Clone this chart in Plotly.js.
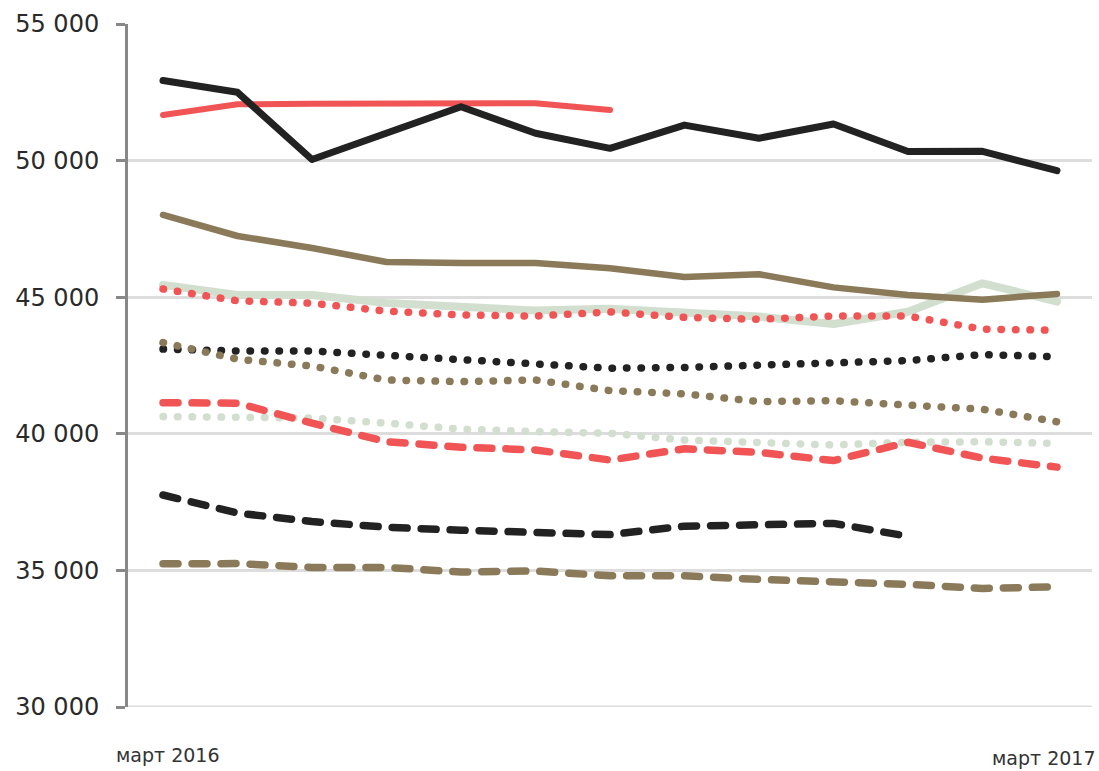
<!DOCTYPE html>
<html>
<head>
<meta charset="utf-8">
<script src="https://cdn.plot.ly/plotly-3.0.1.min.js"></script>
<style>
  html, body { margin: 0; padding: 0; background: #fff; }
  #chart { width: 1099px; height: 771px; }
  /* rounded ends for dashes and dots */
  .scatterlayer .js-line { stroke-linecap: round !important; stroke-linejoin: round !important; }
</style>
</head>
<body>
<div id="chart"></div>
<script>
// months from March 2016 to March 2017
const months = ['март 2016', 'апр 2016', 'май 2016', 'июнь 2016', 'июль 2016', 'авг 2016',
  'сен 2016', 'окт 2016', 'ноя 2016', 'дек 2016', 'янв 2017', 'фев 2017', 'март 2017'];
const edgeLabels = ['март 2016', 'март 2017'];
const yTicks = [30000, 35000, 40000, 45000, 50000, 55000];

// series values
const blackSolid = [52930, 52500, 50040, 51010, 51970, 51000, 50450, 51300, 50820, 51340, 50330, 50340, 49630];
const redSolid   = [51670, 52060, 52080, 52100, 52080, 52100, 51850];
const tanSolid   = [48010, 47240, 46800, 46290, 46250, 46250, 46060, 45740, 45840, 45360, 45080, 44910, 45120];
const greenSolid = [45450, 45080, 45080, 44790, 44650, 44510, 44580, 44410, 44290, 44020, 44470, 45510, 44840];
const redDot     = [45300, 44870, 44780, 44490, 44350, 44310, 44460, 44260, 44190, 44310, 44310, 43830, 43790];
const blackDot   = [43100, 43030, 43030, 42870, 42760, 42600, 42400, 42430, 42510, 42550, 42680, 42900, 42820];
const tanDot     = [43340, 42730, 42480, 41970, 41910, 41970, 41580, 41460, 41180, 41210, 41050, 40900, 40440];
const greenDot   = [40630, 40630, 40580, 40390, 40170, 40080, 40020, 39770, 39710, 39590, 39690, 39710, 39650];
const redDash    = [41140, 41120, 40390, 39710, 39510, 39410, 39040, 39450, 39320, 39020, 39690, 39110, 38780];
const blackDash  = [37760, 37100, 36790, 36580, 36470, 36420, 36310, 36620, 36660, 36720, 36250];
const tanDash    = [35240, 35250, 35110, 35110, 34940, 34980, 34800, 34800, 34670, 34590, 34490, 34340, 34400];

const BLACK = '#222222', RED = '#f05454', TAN = '#8b7a59', GREEN = '#d2dfcf';
const DOT = '0.5px,14px';
const DASH = '15px,14px';

function line(values, color, width, dash) {
  return {
    type: 'scatter', mode: 'lines',
    x: months.slice(0, values.length), y: values,
    line: { color: color, width: width, dash: dash || 'solid', shape: 'linear' },
    hoverinfo: 'skip', showlegend: false
  };
}

const data = [
  line(greenSolid, GREEN, 8),
  line(tanSolid, TAN, 6.5),
  line(redSolid, RED, 6),
  line(blackSolid, BLACK, 7),
  line(greenDot, GREEN, 7.5, DOT),
  line(blackDot, BLACK, 7.5, DOT),
  line(tanDot, TAN, 7.5, DOT),
  line(redDot, RED, 7.5, DOT),
  line(redDash, RED, 7.5, DASH),
  line(blackDash, BLACK, 7.5, DASH),
  line(tanDash, TAN, 7.5, DASH)
];

const tickFont = { family: 'DejaVu Sans', size: 24, color: '#2a2a2a' };
const labelFont = { family: 'DejaVu Sans', size: 19, color: '#333333' };

const layout = {
  width: 1099, height: 771,
  margin: { l: 128, r: 7, t: 24, b: 64 },
  paper_bgcolor: '#fff', plot_bgcolor: '#fff',
  separators: ', ',
  showlegend: false,
  xaxis: {
    type: 'category', categoryarray: months,
    range: [-0.47, months.length - 1 + 0.47],
    showgrid: false, zeroline: false, showline: false,
    showticklabels: false, ticks: ''
  },
  yaxis: {
    range: [30000, 55000],
    tickvals: yTicks,
    tickformat: ',d',
    showgrid: true, gridcolor: '#dddddd', gridwidth: 3,
    zeroline: false,
    showline: true, linecolor: '#888888', linewidth: 3,
    ticks: 'outside', ticklen: 9, tickwidth: 3, tickcolor: '#888888',
    ticklabelstandoff: 12,
    tickfont: tickFont
  },
  // bottom gridline at the lowest tick
  shapes: [
    { type: 'line', layer: 'below', xref: 'paper', x0: 0, x1: 1, yref: 'y', y0: yTicks[0], y1: yTicks[0],
      line: { color: '#dddddd', width: 3 } }
  ],
  annotations: [
    { text: edgeLabels[0], xref: 'x', x: months[0], yref: 'paper', y: 0, yshift: -48,
      xanchor: 'center', yanchor: 'middle', xshift: 5, showarrow: false, font: labelFont },
    { text: edgeLabels[1], xref: 'paper', x: 1, yref: 'paper', y: 0, yshift: -51,
      xanchor: 'right', yanchor: 'middle', xshift: 6, showarrow: false, font: labelFont }
  ]
};

Plotly.newPlot('chart', data, layout, { staticPlot: true, displayModeBar: false });
</script>
</body>
</html>
